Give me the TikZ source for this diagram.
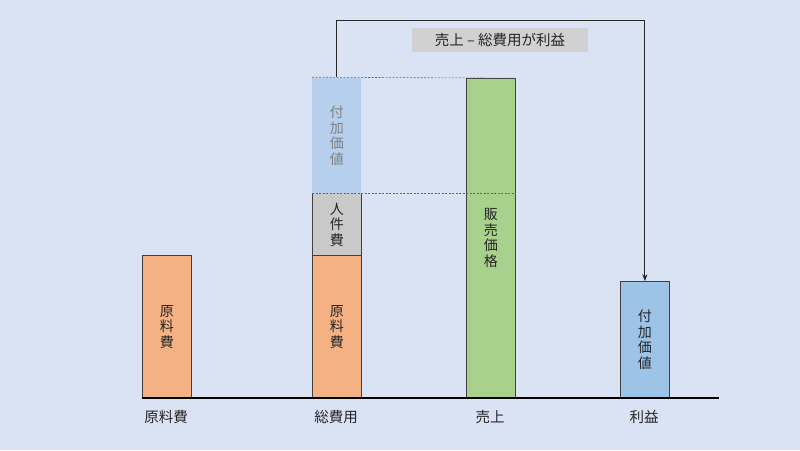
\documentclass[tikz,border=0pt]{standalone}
\usepackage{fontspec}
\setmainfont{Noto Sans CJK JP}
\usetikzlibrary{arrows.meta}
\definecolor{bg}{HTML}{DAE3F3}
\definecolor{cor}{HTML}{F4B183}
\definecolor{cgr}{HTML}{C9C9C9}
\definecolor{cgn}{HTML}{A9D18E}
\definecolor{cbl}{HTML}{9DC3E6}
\definecolor{clb}{HTML}{B5CFEC}
\definecolor{edge}{HTML}{404040}
\tikzset{
  bar/.style={draw=edge, line width=0.8pt, minimum width=49pt, anchor=south west, inner sep=0pt,
    align=center, font=\fontsize{14}{15.5}\selectfont, text=black!85},
  lbl/.style={font=\fontsize{14.5}{16}\selectfont, text=black!85},
}
\begin{document}
\begin{tikzpicture}[x=1pt,y=-1pt]
\fill[bg] (0,0) rectangle (800,450);
\useasboundingbox (0,0) rectangle (800,450);
% bars
\node[bar, fill=cor, minimum height=142pt] (b1) at (142,398) {原\\料\\費};
\node[bar, fill=cor, minimum height=142pt] (b2o) at (312,398) {原\\料\\費};
\node[bar, fill=cgr, minimum height=62pt] (b2g) at (312,256) {人\\件\\費};
\node[bar, draw=none, fill=clb, minimum height=116pt, text=black!50] (b2l) at (312,194) {付\\加\\価\\値};
\node[bar, fill=cgn, minimum height=319pt] (b3) at (466,398) {販\\売\\価\\格};
\node[bar, fill=cbl, minimum height=116pt] (b4) at (620,398) {付\\加\\価\\値};
% dashed guides
\draw[edge!80, line width=0.6pt, dash pattern=on 2pt off 1.5pt] (b2l.north west) -- (b3.north east);
\draw[edge!80, line width=0.6pt, dash pattern=on 2pt off 1.5pt] (b2g.north west) -- (b3.east |- b2g.north);
% baseline
\coordinate (axl) at (142,398);
\coordinate (axr) at (719,398);
\draw[line width=1.8pt, black] (axl) -- (axr);
% axis labels
\node[lbl] (l1) at (166,417) {原料費};
\node[lbl] (l2) at (336,417) {総費用};
\node[lbl] (l3) at (490,417) {売上};
\node[lbl] (l4) at (644,417) {利益};
% connector
\coordinate (top) at (0,20);
\draw[line width=0.9pt, black!85, -{Stealth[length=7pt,width=5pt]}] (b2l.north) -- (b2l.north |- top) -| (b4.north);
% label box
\node[fill=cgr!85!white, minimum width=176pt, minimum height=24pt, inner sep=0pt, lbl] (note) at (500,40) {売上 – 総費用が利益};
\end{tikzpicture}
\end{document}
